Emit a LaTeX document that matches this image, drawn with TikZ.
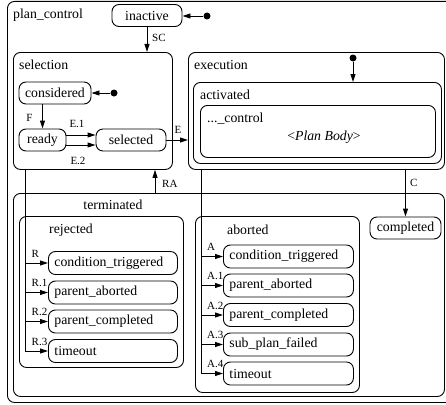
\documentclass[tikz,border=0pt]{standalone}
\usepackage{fontspec}
\setmainfont{Liberation Serif}
\usetikzlibrary{arrows.meta}
\begin{document}
\begin{tikzpicture}[x=1pt,y=-1pt,
  box/.style={draw, rounded corners=7pt, line width=0.9pt, inner sep=0pt},
  st/.style={box, minimum height=22pt, font=\fontsize{13.8}{16}\selectfont},
  sub/.style={box, minimum height=23pt, font=\fontsize{13.8}{16}\selectfont, text width=#1, align=left, inner xsep=6pt},
  lab/.style={font=\fontsize{13.8}{16}\selectfont, inner sep=0pt},
  small/.style={font=\fontsize{11}{13}\selectfont, inner sep=0pt},
  dot/.style={circle, fill, inner sep=0pt, minimum size=7pt},
  ln/.style={line width=0.9pt},
  arr/.style={ln, -{Triangle[length=8pt,width=5pt]}}
]
\useasboundingbox (0,0) rectangle (446,404);
\clip (0,0) rectangle (446,404);
% containers
\node[box, anchor=north west, minimum width=460pt, minimum height=401pt] (plan) at (7,1) {};
\node[lab, anchor=west] (tplan) at (13,15) {plan\_control};
\node[box, anchor=north west, minimum width=159pt, minimum height=117pt] (selection) at (13,52) {};
\node[lab, anchor=west] (tsel) at (19,65) {selection};
\node[box, anchor=north west, minimum width=256pt, minimum height=117pt] (execution) at (188,52) {};
\node[lab, anchor=west] (texe) at (194,65) {execution};
\node[box, anchor=north west, minimum width=248pt, minimum height=81pt] (activated) at (193,82) {};
\node[lab, anchor=west] (tact) at (200,95) {activated};
\node[box, anchor=north west, minimum width=235pt, minimum height=52pt] (body) at (200,105) {};
\node[lab, anchor=west] (tctl) at (207,119) {...\_control};
\node[lab] (tbody) at (324,137) {\textless\textit{Plan Body}\textgreater};
\node[box, anchor=north west, minimum width=431pt, minimum height=203pt] (terminated) at (13,193) {};
\node[lab] (tterm) at (113,205) {terminated};
\node[box, anchor=north west, minimum width=164pt, minimum height=151pt] (rejected) at (19,216) {};
\node[lab, anchor=west] (trej) at (49,230) {rejected};
\node[box, anchor=north west, minimum width=164pt, minimum height=176pt] (aborted) at (195,216) {};
\node[lab, anchor=west] (tabo) at (227,230) {aborted};
% simple states
\node[st, minimum width=70pt] (inactive) at (147,15.5) {inactive};
\node[st, minimum width=72pt] (considered) at (55,93) {considered};
\node[st, minimum width=47pt] (ready) at (42.5,140) {ready};
\node[st, minimum width=70pt] (selected) at (131,140) {selected};
\node[st, minimum width=71pt] (completed) at (405.5,228) {completed};
% sub states
\node[sub=117pt, anchor=west] (rj1) at (48,263) {condition\_triggered};
\node[sub=117pt, anchor=west] (rj2) at (48,292.5) {parent\_aborted};
\node[sub=117pt, anchor=west] (rj3) at (48,321.5) {parent\_completed};
\node[sub=117pt, anchor=west] (rj4) at (48,351) {timeout};
\node[sub=118pt, anchor=west] (ab1) at (223,256.5) {condition\_triggered};
\node[sub=118pt, anchor=west] (ab2) at (223,285.5) {parent\_aborted};
\node[sub=118pt, anchor=west] (ab3) at (223,315) {parent\_completed};
\node[sub=118pt, anchor=west] (ab4) at (223,344.5) {sub\_plan\_failed};
\node[sub=118pt, anchor=west] (ab5) at (223,373.5) {timeout};
% initial dots
\node[dot] (i1) at (207,16) {};
\node[dot] (i2) at (114,93) {};
\node[dot] (i3) at (353,58) {};
\draw[arr] (i1) -- (i1 -| inactive.east);
\draw[arr] (i2) -- (i2 -| considered.east);
\draw[arr] (i3) -- (i3 |- activated.north);
% transitions
\draw[arr] (inactive.south) -- (inactive.south |- selection.north);
\node[small, anchor=west] (lsc) at (152,38) {SC};
\draw[arr] (ready.north |- considered.south) -- (ready.north);
\node[small] (lf) at (29.5,118) {F};
\draw[arr] ([yshift=5pt]ready.east) -- ([yshift=5pt]selected.west);
\draw[arr] ([yshift=-5pt]ready.east) -- ([yshift=-5pt]selected.west);
\node[small] (le1) at (77,124) {E.1};
\node[small] (le2) at (78,161) {E.2};
\draw[arr] (selected.east) -- (selected.east -| execution.west);
\node[small] (le) at (178,130) {E};
\coordinate (rax) at (155,0);
\draw[arr] (terminated.north -| rax) -- (selection.south -| rax);
\node[small, anchor=west] (lra) at (162,184) {RA};
\draw[arr] (completed.north |- execution.south) -- (completed.north);
\node[small, anchor=west] (lc) at (410,183) {C};
% rejected branches
\coordinate (rx) at (25,0);
\draw[ln] (selection.south -| rx) -- (rj4.west -| rx);
\foreach \n/\l in {rj1/R, rj2/R.1, rj3/R.2, rj4/R.3} {
  \draw[arr] (\n.west -| rx) -- (\n.west);
  \node[small, anchor=south west] (l\n) at ([xshift=6.5pt,yshift=5.5pt]\n.west -| rx) {\l};
}
% aborted branches
\coordinate (ax) at (201,0);
\draw[ln] (execution.south -| ax) -- (ab5.west -| ax);
\foreach \n/\l in {ab1/A, ab2/A.1, ab3/A.2, ab4/A.3, ab5/A.4} {
  \draw[arr] (\n.west -| ax) -- (\n.west);
  \node[small, anchor=south west] (l\n) at ([xshift=6pt,yshift=5.5pt]\n.west -| ax) {\l};
}
\end{tikzpicture}
\end{document}
